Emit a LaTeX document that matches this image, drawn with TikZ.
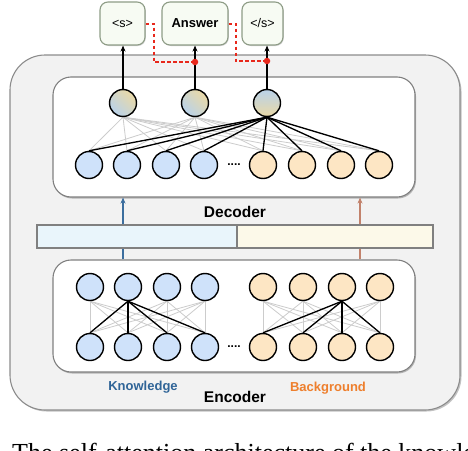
\documentclass[tikz,border=0pt]{standalone}
\usepackage{fontspec}
\setmainfont{Liberation Sans}
\newfontfamily\capfont{Liberation Serif}
\usetikzlibrary{shadows,arrows.meta,calc}
\definecolor{nblue}{HTML}{CFE2FA}
\definecolor{norange}{HTML}{FDE6C4}
\definecolor{tanc}{HTML}{EAD9A6}
\definecolor{bluec}{HTML}{B9D2EA}
\definecolor{kblue}{HTML}{2F6497}
\definecolor{borange}{HTML}{EE7F2D}
\definecolor{arrblue}{HTML}{3C6E9E}
\definecolor{arrorange}{HTML}{C2826C}
\definecolor{rdash}{HTML}{E8281C}
\definecolor{outerfill}{HTML}{F2F2F2}
\definecolor{tokfill}{HTML}{F7FBF3}
\definecolor{tokline}{HTML}{8E9C86}
\definecolor{barLc}{HTML}{E9F5FB}
\definecolor{barRc}{HTML}{FCF9E9}
\pgfdeclarelayer{back}
\pgfdeclarelayer{edges}
\pgfsetlayers{back,edges,main}
\begin{document}
\begin{tikzpicture}[x=1pt,y=-1pt,
  neu/.style={circle,draw=black,line width=1.4pt,minimum size=27pt,inner sep=0pt},
  bneu/.style={neu,fill=nblue},
  oneu/.style={neu,fill=norange},
  outbox/.style={draw=black!45,line width=1.1pt,fill=outerfill,rounded corners=35pt,
    drop shadow={shadow xshift=1.5pt,shadow yshift=-1.5pt,fill=black!40,opacity=0.6}},
  inbox/.style={draw=black!50,line width=1.1pt,fill=white,rounded corners=18pt,
    drop shadow={shadow xshift=1pt,shadow yshift=-1.5pt,fill=black!45,opacity=0.6}},
  tok/.style={draw=tokline,line width=1.1pt,fill=tokfill,rounded corners=8pt,minimum height=43pt,inner sep=0pt,
    drop shadow={shadow xshift=0.8pt,shadow yshift=-1pt,fill=black!35,opacity=0.5}},
  barbox/.style={draw=black!50,line width=1.4pt,minimum height=23pt,inner sep=0pt},
  glink/.style={draw=black!20,line width=0.8pt},
  klink/.style={draw=black,line width=1.3pt},
  karrow/.style={draw=black,line width=1.4pt,-{Stealth[length=6pt,width=5pt]}},
  barrowb/.style={draw=arrblue,line width=1.4pt},
  barrowo/.style={draw=arrorange,line width=1.4pt},
  rline/.style={draw=rdash,line width=2pt,dash pattern=on 3.5pt off 2.5pt},
  rdot/.style={circle,fill=rdash,minimum size=6.5pt,inner sep=0pt},
  lab/.style={font=\bfseries\fontsize{15.5}{15.5}\selectfont},
  sublab/.style={font=\bfseries\fontsize{13}{13}\selectfont}
]
\useasboundingbox (0,0) rectangle (468,450);

% boxes
\begin{pgfonlayer}{back}
\node[outbox,minimum width=450pt,minimum height=355pt] (outer) at (235,232.5) {};
\node[inbox,minimum width=362pt,minimum height=120pt] (dec) at (234,137) {};
\node[inbox,minimum width=362pt,minimum height=112pt] (enc) at (234,316) {};
\node[barbox,fill=barLc,minimum width=200pt] (bl) at (137,236.5) {};
\node[barbox,fill=barRc,minimum width=196pt] (br) at (335,236.5) {};
\end{pgfonlayer}

% token boxes
\node[tok,minimum width=45pt,font=\fontsize{12.5}{12.5}\selectfont] (s1) at (122.5,23.5) {<s>};
\node[tok,minimum width=66pt,font=\bfseries\fontsize{13}{13}\selectfont] (ans) at (195,23.5) {Answer};
\node[tok,minimum width=41pt,font=\fontsize{12.5}{12.5}\selectfont] (s2) at (262.5,23.5) {</s>};

% decoder neurons
\node[neu,top color=tanc,bottom color=bluec,shading angle=-45] (t1) at (123,103) {};
\node[neu,top color=tanc,bottom color=bluec,shading angle=-45] (t2) at (195,103) {};
\node[neu,top color=bluec,bottom color=tanc] (t3) at (267,103) {};
\foreach \i/\x in {1/89,2/127,3/166,4/204}{\node[bneu] (d\i) at (\x,165) {};}
\foreach \i/\x in {5/263,6/302,7/341,8/379}{\node[oneu] (d\i) at (\x,165) {};}
\node[font=\bfseries\fontsize{12}{12}\selectfont,inner sep=0pt] (ddots) at (234,165) {....};

% encoder neurons
\foreach \i/\x in {1/90,2/128,3/167,4/205}{\node[bneu] (e\i) at (\x,287) {}; \node[bneu] (f\i) at (\x,347) {};}
\foreach \i/\x in {5/263,6/303,7/342,8/380}{\node[oneu] (e\i) at (\x,287) {}; \node[oneu] (f\i) at (\x,347) {};}
\node[font=\bfseries\fontsize{12}{12}\selectfont,inner sep=0pt] (edots) at (234,347) {....};

% links
\begin{pgfonlayer}{edges}
\foreach \t in {t1,t2,t3}{\foreach \j in {1,...,8}{\draw[glink] (\t.south) -- (d\j.north);}}
\foreach \j in {1,...,8}{\draw[klink] (t3.south) -- (d\j.north);}
\foreach \i in {1,...,4}{\foreach \j in {1,...,4}{\draw[glink] (e\i.south) -- (f\j.north);}}
\foreach \i in {5,...,8}{\foreach \j in {5,...,8}{\draw[glink] (e\i.south) -- (f\j.north);}}
\foreach \j in {1,...,4}{\draw[klink] (e2.south) -- (f\j.north);}
\foreach \j in {5,...,8}{\draw[klink] (e7.south) -- (f\j.north);}
\end{pgfonlayer}

% output arrows
\draw[karrow] (t1.north) -- (s1.south -| t1);
\draw[karrow] (t2.north) -- (ans.south -| t2);
\draw[karrow] (t3.north) -- (s2.south -| t3);

% red dashed links
\node[rdot] (r1) at (195,62) {};
\node[rdot] (r2) at (267,61) {};
\draw[rline] (s1.east) -- ++(8,0) |- (r1);
\draw[rline] (ans.east) -- ++(7,0) |- (r2);

% bar arrows
\coordinate (ox) at (360,0);
\coordinate (bx) at (123,0);
\draw[barrowb,-{Stealth[length=6pt,width=5pt]}] (bl.north -| bx) -- (dec.south -| bx);
\draw[barrowb] (enc.north -| bx) -- (bl.south -| bx);
\draw[barrowo,-{Stealth[length=6pt,width=5pt]}] (br.north -| ox) -- (dec.south -| ox);
\draw[barrowo] (enc.north -| ox) -- (br.south -| ox);

% labels
\node[lab] (declab) at (235,212) {Decoder};
\node[lab] (enclab) at (235,397) {Encoder};
\node[sublab,text=kblue] (klab) at (143,387) {Knowledge};
\node[sublab,text=borange] (blab) at (328,388) {Background};

% cut caption
\begin{scope}
\clip (0,0) rectangle (468,450);
\node[anchor=base west,inner sep=0pt,font=\capfont\fontsize{26}{26}\selectfont] (cap) at (12,461) {The self-attention architecture of the knowledge};
\end{scope}
\end{tikzpicture}
\end{document}
